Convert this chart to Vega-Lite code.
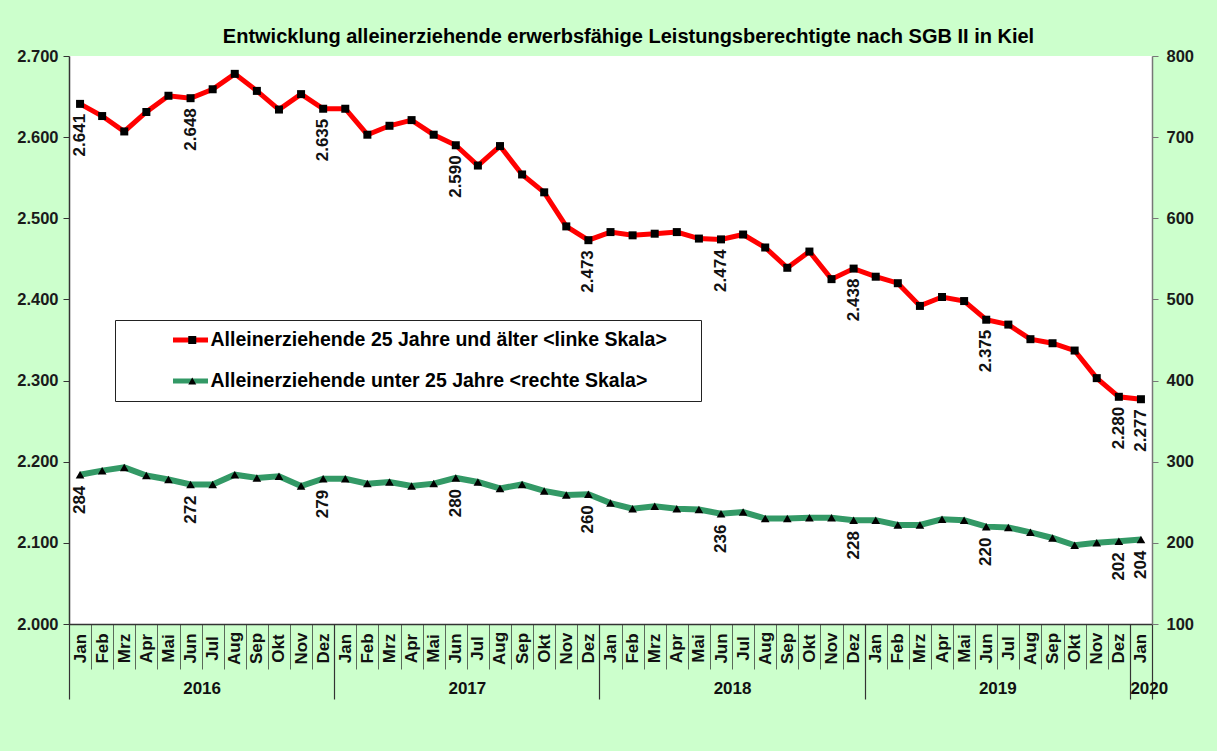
{
  "$schema": "https://vega.github.io/schema/vega-lite/v6.json",
  "width": 1083,
  "height": 568,
  "autosize": "none",
  "padding": {"left": 69, "top": 56, "right": 65, "bottom": 127},
  "background": "#ccffcc",
  "title": {
    "text": "Entwicklung alleinerziehende erwerbsfähige Leistungsberechtigte nach SGB II in Kiel",
    "font": "Liberation Sans",
    "fontSize": 20,
    "fontWeight": "bold",
    "color": "black",
    "anchor": "middle",
    "dx": 18,
    "offset": 1
  },
  "config": {
    "view": {"fill": "white", "stroke": null},
    "font": "Liberation Sans",
    "locale": {"number": {"decimal": ",", "thousands": ".", "grouping": [3], "currency": ["", " €"]}}
  },
  "data": {
    "values": [
      {"m": "2016-01", "a25": 2641, "u25": 284},
      {"m": "2016-02", "a25": 2626, "u25": 289},
      {"m": "2016-03", "a25": 2607, "u25": 293},
      {"m": "2016-04", "a25": 2631, "u25": 283},
      {"m": "2016-05", "a25": 2651, "u25": 278},
      {"m": "2016-06", "a25": 2648, "u25": 272},
      {"m": "2016-07", "a25": 2659, "u25": 272},
      {"m": "2016-08", "a25": 2678, "u25": 284},
      {"m": "2016-09", "a25": 2657, "u25": 280},
      {"m": "2016-10", "a25": 2634, "u25": 282},
      {"m": "2016-11", "a25": 2653, "u25": 270},
      {"m": "2016-12", "a25": 2635, "u25": 279},
      {"m": "2017-01", "a25": 2635, "u25": 279},
      {"m": "2017-02", "a25": 2603, "u25": 273},
      {"m": "2017-03", "a25": 2614, "u25": 275},
      {"m": "2017-04", "a25": 2621, "u25": 270},
      {"m": "2017-05", "a25": 2603, "u25": 273},
      {"m": "2017-06", "a25": 2590, "u25": 280},
      {"m": "2017-07", "a25": 2565, "u25": 275},
      {"m": "2017-08", "a25": 2589, "u25": 267},
      {"m": "2017-09", "a25": 2554, "u25": 272},
      {"m": "2017-10", "a25": 2532, "u25": 264},
      {"m": "2017-11", "a25": 2490, "u25": 259},
      {"m": "2017-12", "a25": 2473, "u25": 260},
      {"m": "2018-01", "a25": 2483, "u25": 249},
      {"m": "2018-02", "a25": 2479, "u25": 242},
      {"m": "2018-03", "a25": 2481, "u25": 245},
      {"m": "2018-04", "a25": 2483, "u25": 242},
      {"m": "2018-05", "a25": 2475, "u25": 241},
      {"m": "2018-06", "a25": 2474, "u25": 236},
      {"m": "2018-07", "a25": 2480, "u25": 238},
      {"m": "2018-08", "a25": 2464, "u25": 230},
      {"m": "2018-09", "a25": 2439, "u25": 230},
      {"m": "2018-10", "a25": 2459, "u25": 231},
      {"m": "2018-11", "a25": 2425, "u25": 231},
      {"m": "2018-12", "a25": 2438, "u25": 228},
      {"m": "2019-01", "a25": 2428, "u25": 228},
      {"m": "2019-02", "a25": 2420, "u25": 222},
      {"m": "2019-03", "a25": 2392, "u25": 222},
      {"m": "2019-04", "a25": 2403, "u25": 229},
      {"m": "2019-05", "a25": 2398, "u25": 228},
      {"m": "2019-06", "a25": 2375, "u25": 220},
      {"m": "2019-07", "a25": 2369, "u25": 219},
      {"m": "2019-08", "a25": 2351, "u25": 213},
      {"m": "2019-09", "a25": 2346, "u25": 206},
      {"m": "2019-10", "a25": 2337, "u25": 197},
      {"m": "2019-11", "a25": 2303, "u25": 200},
      {"m": "2019-12", "a25": 2280, "u25": 202},
      {"m": "2020-01", "a25": 2277, "u25": 204}
    ]
  },
  "layer": [
    {
      "layer": [
        {
          "mark": {"type": "line", "strokeWidth": 5},
          "encoding": {
            "x": {
              "field": "m", "type": "ordinal",
              "scale": {"type": "band", "paddingInner": 0, "paddingOuter": 0},
              "axis": {
                "orient": "bottom", "title": null, "grid": false,
                "tickBand": "extent", "tickSize": 45, "tickColor": "#5a6a5a", "tickWidth": 1,
                "domainColor": "#333", "domainWidth": 1.5,
                "labelAngle": 270, "labelAlign": "center", "labelBaseline": "middle",
                "labelPadding": -21, "labelOverlap": false, "labelBound": false, "labelFlush": false,
                "labelFont": "Liberation Sans", "labelFontSize": 17, "labelFontWeight": "bold", "labelColor": "#111",
                "labelExpr": "['Jan','Feb','Mrz','Apr','Mai','Jun','Jul','Aug','Sep','Okt','Nov','Dez'][toNumber(substring(datum.value,5,7))-1]"
              }
            },
            "y": {
              "field": "a25", "type": "quantitative",
              "scale": {"domain": [2000, 2700], "nice": false, "zero": false},
              "axis": {
                "orient": "left", "title": null, "grid": false,
                "values": [2000, 2100, 2200, 2300, 2400, 2500, 2600, 2700],
                "format": ",d", "tickSize": 6, "tickColor": "#333", "domainColor": "#333", "domainWidth": 1.5,
                "labelPadding": 5, "labelFont": "Liberation Sans", "labelFontSize": 16.5, "labelFontWeight": "bold", "labelColor": "#1a1a1a"
              }
            },
            "color": {
              "datum": "Alleinerziehende 25 Jahre und älter <linke Skala>",
              "type": "nominal",
              "scale": {
                "domain": ["Alleinerziehende 25 Jahre und älter <linke Skala>", "Alleinerziehende unter 25 Jahre <rechte Skala>"],
                "range": ["#ff0000", "#339966"]
              },
              "legend": {
                "orient": "none", "legendX": 46, "legendY": 264, "title": " ",
                "titleOrient": "right", "titlePadding": 24, "titleFontSize": 8,
                "symbolType": "stroke", "symbolSize": 1225, "symbolStrokeWidth": 5,
                "symbolOffset": 45.5, "labelOffset": 0,
                "labelFont": "Liberation Sans", "labelFontSize": 19.5, "labelFontWeight": "bold", "labelColor": "black", "labelLimit": 700,
                "padding": 10, "rowPadding": 21, "clipHeight": 20,
                "fillColor": "white", "strokeColor": "#222"
              }
            }
          }
        },
        {
          "mark": {"type": "point", "filled": true, "color": "black", "size": 64, "opacity": 1},
          "encoding": {
            "x": {"field": "m", "type": "ordinal"},
            "y": {"field": "a25", "type": "quantitative"},
            "shape": {
              "datum": "A", "type": "nominal",
              "scale": {"domain": ["A", "B"], "range": ["square", "triangle-up"]},
              "legend": {
                "orient": "none", "legendX": 46, "legendY": 264, "title": null,
                "symbolSize": 64, "symbolFillColor": "black", "symbolStrokeWidth": 0,
                "symbolOffset": 57.5, "labelExpr": "' '",
                "labelFont": "Liberation Sans", "labelFontSize": 19.5, "labelFontWeight": "bold",
                "padding": 10, "rowPadding": 21, "clipHeight": 20
              }
            }
          }
        },
        {
          "transform": [{"filter": {"field": "m", "oneOf": ["2016-01", "2016-06", "2016-12", "2017-06", "2017-12", "2018-06", "2018-12", "2019-06", "2019-12", "2020-01"]}}],
          "mark": {"type": "text", "angle": 270, "align": "right", "baseline": "middle", "dx": -10, "font": "Liberation Sans", "fontSize": 17, "fontWeight": "bold", "color": "#111"},
          "encoding": {
            "x": {"field": "m", "type": "ordinal"},
            "y": {"field": "a25", "type": "quantitative"},
            "text": {"field": "a25", "type": "quantitative", "format": ",d"}
          }
        }
      ]
    },
    {
      "layer": [
        {
          "mark": {"type": "line", "strokeWidth": 6},
          "encoding": {
            "x": {
              "field": "m", "type": "ordinal",
              "axis": {
                "orient": "bottom", "title": null, "grid": false, "domain": false,
                "tickBand": "extent", "tickSize": 75, "tickColor": "#333", "tickWidth": 1.2,
                "tickOpacity": {"condition": {"test": "datum.extra || datum.value == '2020-01' || substring(datum.value,5,7) == '12'", "value": 1}, "value": 0},
                "labelAngle": 0, "labelBaseline": "middle",
                "labelAlign": {"condition": {"test": "datum.value == '2020-01'", "value": "left"}, "value": "center"},
                "labelPadding": -11, "labelOverlap": false, "labelBound": false, "labelFlush": false,
                "labelOffset": -11.05,
                "labelFont": "Liberation Sans", "labelFontSize": 17, "labelFontWeight": "bold", "labelColor": "#111",
                "labelExpr": "substring(datum.value,5,7) == '07' ? substring(datum.value,0,4) : (datum.value == '2020-01' ? '2020' : '')"
              }
            },
            "y": {
              "field": "u25", "type": "quantitative",
              "scale": {"domain": [100, 800], "nice": false, "zero": false},
              "axis": {
                "orient": "right", "title": null, "grid": false,
                "values": [100, 200, 300, 400, 500, 600, 700, 800],
                "format": "d", "tickSize": 6, "tickColor": "#777", "domainColor": "#777", "domainWidth": 1.5,
                "labelPadding": 8, "labelFont": "Liberation Sans", "labelFontSize": 16.5, "labelFontWeight": "bold", "labelColor": "#1a1a1a"
              }
            },
            "color": {"datum": "Alleinerziehende unter 25 Jahre <rechte Skala>", "type": "nominal"}
          }
        },
        {
          "mark": {"type": "point", "filled": true, "color": "black", "size": 75, "opacity": 1},
          "encoding": {
            "x": {"field": "m", "type": "ordinal"},
            "y": {"field": "u25", "type": "quantitative"},
            "shape": {"datum": "B", "type": "nominal"}
          }
        },
        {
          "transform": [{"filter": {"field": "m", "oneOf": ["2016-01", "2016-06", "2016-12", "2017-06", "2017-12", "2018-06", "2018-12", "2019-06", "2019-12", "2020-01"]}}],
          "mark": {"type": "text", "angle": 270, "align": "right", "baseline": "middle", "dx": -11, "font": "Liberation Sans", "fontSize": 17, "fontWeight": "bold", "color": "#111"},
          "encoding": {
            "x": {"field": "m", "type": "ordinal"},
            "y": {"field": "u25", "type": "quantitative"},
            "text": {"field": "u25", "type": "quantitative", "format": "d"}
          }
        }
      ]
    }
  ],
  "resolve": {"scale": {"y": "independent"}, "axis": {"x": "independent"}}
}
